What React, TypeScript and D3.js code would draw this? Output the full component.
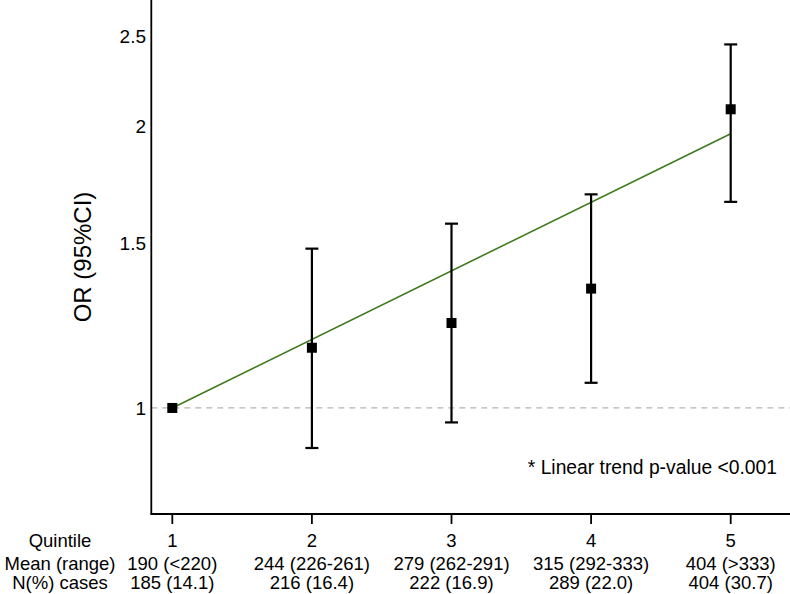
import React from "react";
import * as d3 from "d3";

const quintiles = [1, 2, 3, 4, 5];
const orValues = [1.0, 1.16, 1.233, 1.342, 2.088];
const ciLower = [1.0, 0.906, 0.965, 1.064, 1.662];
const ciUpper = [1.0, 1.481, 1.575, 1.693, 2.45];
const trendStart = 1.0;
const trendEnd = 1.966;
const yTicks = [1, 1.5, 2, 2.5];
const meanRange = ["190 (<220)", "244 (226-261)", "279 (262-291)", "315 (292-333)", "404 (>333)"];
const nCases = ["185 (14.1)", "216 (16.4)", "222 (16.9)", "289 (22.0)", "404 (30.7)"];
const rowLabels = ["Quintile", "Mean (range)", "N(%) cases"];
const note = "* Linear trend p-value <0.001";

const W = 790;
const H = 594;
const FONT = "'Liberation Sans', Arial, sans-serif";

export default function App() {
  const axisX = 151.3;
  const axisY = 514;
  const x = d3.scaleLinear().domain([1, 5]).range([172.3, 730.7]);
  const y = d3.scaleLog().domain([0.77, 2.72]).range([axisY, 2]);
  const trend = d3
    .line<[number, number]>()
    .x((d) => x(d[0]))
    .y((d) => y(d[1]));
  const rowY = [547, 569.5, 589];
  const rowFont = 18.5;

  return (
    <svg
      width={W}
      height={H}
      style={{ position: "absolute", left: 0, top: 0, background: "#fff" }}
      fontFamily={FONT}
    >
      <rect x={0} y={0} width={W} height={H} fill="#fff" />
      <line
        x1={axisX}
        x2={W}
        y1={y(1)}
        y2={y(1)}
        stroke="#b4b4b4"
        strokeWidth={1.3}
        strokeDasharray="6 5"
      />
      <path
        d={trend([
          [quintiles[0], trendStart],
          [quintiles[quintiles.length - 1], trendEnd],
        ]) || ""}
        stroke="#3f7a1e"
        strokeWidth={1.6}
        fill="none"
      />
      {quintiles.map((q, i) => (
        <g key={q}>
          {ciUpper[i] !== ciLower[i] && (
            <>
              <line x1={x(q)} x2={x(q)} y1={y(ciLower[i])} y2={y(ciUpper[i])} stroke="#000" strokeWidth={2.2} />
              <line x1={x(q) - 6.5} x2={x(q) + 6.5} y1={y(ciLower[i])} y2={y(ciLower[i])} stroke="#000" strokeWidth={2.2} />
              <line x1={x(q) - 6.5} x2={x(q) + 6.5} y1={y(ciUpper[i])} y2={y(ciUpper[i])} stroke="#000" strokeWidth={2.2} />
            </>
          )}
          <rect x={x(q) - 5} y={y(orValues[i]) - 5} width={10} height={10} fill="#000" />
        </g>
      ))}
      <line x1={axisX} x2={axisX} y1={0} y2={axisY} stroke="#000" strokeWidth={1.8} />
      <line x1={axisX - 0.9} x2={W} y1={axisY} y2={axisY} stroke="#000" strokeWidth={1.8} />
      {yTicks.map((t) => (
        <text key={t} x={146} y={y(t)} dy="0.35em" textAnchor="end" fontSize={19} fill="#000">
          {String(t)}
        </text>
      ))}
      <text
        transform={`translate(${91},${257}) rotate(-90)`}
        textAnchor="middle"
        fontSize={24}
        fill="#000"
      >
        OR (95%CI)
      </text>
      {quintiles.map((q, i) => (
        <g key={"xl" + q}>
          <line x1={x(q)} x2={x(q)} y1={axisY} y2={axisY + 10} stroke="#000" strokeWidth={1.8} />
          <text x={x(q)} y={rowY[0]} textAnchor="middle" fontSize={rowFont} fill="#000">{String(q)}</text>
          <text x={x(q)} y={rowY[1]} textAnchor="middle" fontSize={rowFont} fill="#000">{meanRange[i]}</text>
          <text x={x(q)} y={rowY[2]} textAnchor="middle" fontSize={rowFont} fill="#000">{nCases[i]}</text>
        </g>
      ))}
      {rowLabels.map((l, i) => (
        <text key={l} x={60} y={rowY[i]} textAnchor="middle" fontSize={rowFont} fill="#000">
          {l}
        </text>
      ))}
      <text x={777} y={474} textAnchor="end" fontSize={19.3} fill="#000">
        {note}
      </text>
    </svg>
  );
}
